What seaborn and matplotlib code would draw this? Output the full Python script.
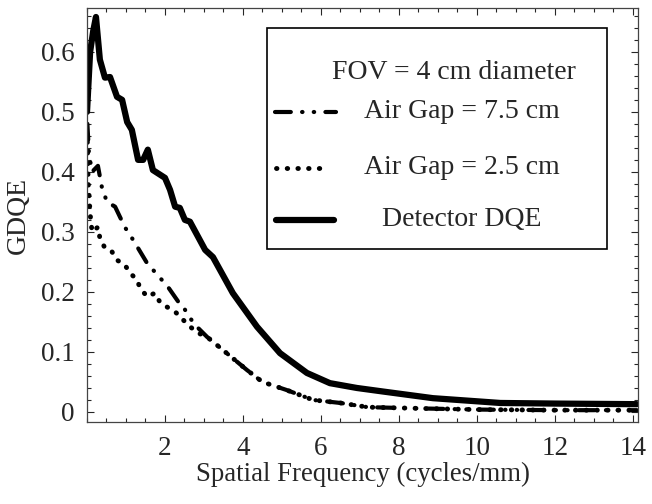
import matplotlib
matplotlib.use("Agg")
import matplotlib.pyplot as plt
from matplotlib.patches import Rectangle
from matplotlib.ticker import MultipleLocator
import seaborn as sns

# Detector DQE (solid)
det_x = [0.0, 0.08, 0.16, 0.23, 0.33, 0.46, 0.59, 0.77, 0.9, 1.03, 1.15, 1.31, 1.44, 1.56,
         1.69, 2.0, 2.13, 2.26, 2.38, 2.51, 2.64, 3.03, 3.23, 3.74, 4.36, 4.95, 5.64,
         6.23, 6.92, 7.6, 8.87, 10.6, 12.0, 14.1]
det_y = [0.50, 0.60, 0.635, 0.658, 0.587, 0.557, 0.558, 0.525, 0.52, 0.483, 0.47, 0.42, 0.42, 0.437,
         0.403, 0.39, 0.37, 0.342, 0.34, 0.32, 0.317, 0.27, 0.258, 0.198, 0.142, 0.098, 0.065,
         0.048, 0.04, 0.034, 0.023, 0.015, 0.014, 0.013]

# Air Gap = 7.5 cm (dash-dot-dot)
gap75_x = [0.01, 0.05, 0.13, 0.28, 0.38, 0.51, 0.72, 0.97, 1.18, 1.54, 1.92, 2.08, 2.38, 2.44,
           2.64, 2.77, 3.08, 3.49, 4.1, 4.5, 5.1, 5.8, 6.5, 7.2, 8.5, 10.0, 12.0, 14.1]
gap75_y = [0.48, 0.43, 0.40, 0.41, 0.375, 0.35, 0.342, 0.308, 0.287, 0.248, 0.22, 0.208, 0.18, 0.178,
           0.157, 0.145, 0.125, 0.103, 0.07, 0.05, 0.037, 0.02, 0.015, 0.008, 0.006, 0.004, 0.003, 0.003]

# Air Gap = 2.5 cm (dotted)
gap25_x = [0.01, 0.03, 0.05, 0.08, 0.13, 0.28, 0.33, 0.46, 0.64, 0.77, 0.97, 1.1, 1.28, 1.36,
           1.54, 1.74, 1.87, 2.05, 2.26, 2.44, 2.6, 2.8, 3.08, 3.49, 4.1, 4.5, 5.1, 5.8, 6.5,
           7.2, 8.5, 10.0, 12.0, 14.1]
gap25_y = [0.45, 0.383, 0.365, 0.33, 0.30, 0.308, 0.29, 0.273, 0.267, 0.253, 0.245, 0.232, 0.22, 0.207,
           0.192, 0.198, 0.183, 0.175, 0.167, 0.155, 0.145, 0.133, 0.125, 0.103, 0.07, 0.05, 0.037,
           0.02, 0.015, 0.008, 0.006, 0.004, 0.003, 0.003]

legend_title = "FOV = 4 cm diameter"
labels = ["Air Gap = 7.5 cm", "Air Gap = 2.5 cm", "Detector DQE"]

sns.set_style("ticks")
plt.rcParams['font.family'] = ['Liberation Serif', 'DejaVu Serif']

fig = plt.figure(figsize=(6.52, 5.04), dpi=100)
ax = fig.add_axes([87 / 652, 82 / 504, 551 / 652, 414 / 504])

dashdot = (0, (3.8, 2.7, 0.1, 2.7, 0.1, 2.7))
dotted = (0, (0.1, 2.1))

sns.lineplot(x=gap75_x, y=gap75_y, ax=ax, color="black", lw=3.0,
             linestyle=dashdot, dash_capstyle="round", estimator=None, sort=False)
sns.lineplot(x=gap25_x, y=gap25_y, ax=ax, color="black", lw=3.5,
             linestyle=dotted, dash_capstyle="round", estimator=None, sort=False)
sns.lineplot(x=det_x, y=det_y, ax=ax, color="black", lw=4.5,
             solid_capstyle="round", solid_joinstyle="round", estimator=None, sort=False)

ax.set_xlim(0, 14.13)
ax.set_ylim(-0.0167, 0.673)
ax.xaxis.set_minor_locator(MultipleLocator(0.5))
ax.yaxis.set_minor_locator(MultipleLocator(0.02))
ax.set_xticks([2, 4, 6, 8, 10, 12, 14])
ax.set_yticks([0, 0.1, 0.2, 0.3, 0.4, 0.5, 0.6])
ax.set_yticklabels(["0", "0.1", "0.2", "0.3", "0.4", "0.5", "0.6"])
ax.tick_params(which="both", direction="in", top=True, right=True, labelsize=19.5, width=0.8)
ax.tick_params(axis="x", which="major", length=5, pad=10)
ax.tick_params(axis="y", which="major", length=5, pad=9)
ax.tick_params(which="minor", length=3)
for s in ax.spines.values():
    s.set_linewidth(0.9)
    s.set_color("#444444")

ax.set_xlabel("Spatial Frequency (cycles/mm)", fontsize=19.3, labelpad=1)
ax.set_ylabel("GDQE", fontsize=20, labelpad=7)

# legend box drawn by hand
ax.add_patch(Rectangle((0.327, 0.418), 0.617, 0.534, transform=ax.transAxes,
                       fill=False, edgecolor="black", lw=1.2, zorder=5))
ax.text(0.666, 0.843, legend_title, transform=ax.transAxes, fontsize=20,
        ha="center", va="center")
rows_y = [0.749, 0.614, 0.488]
spans = [(0.341, 0.452), (0.343, 0.437), (0.343, 0.448)]
styles = [(dashdot, 3.0), (dotted, 3.5), ("-", 4.5)]
for yy, lab, (x0, x1), (ls, lw) in zip(rows_y, labels, spans, styles):
    ax.plot([x0, x1], [yy, yy], transform=ax.transAxes, color="black",
            linestyle=ls, lw=lw, dash_capstyle="round", solid_capstyle="round")
    ax.text(0.681, yy, lab, transform=ax.transAxes, fontsize=20,
            ha="center", va="center")

fig.savefig("out.png", dpi=100)
